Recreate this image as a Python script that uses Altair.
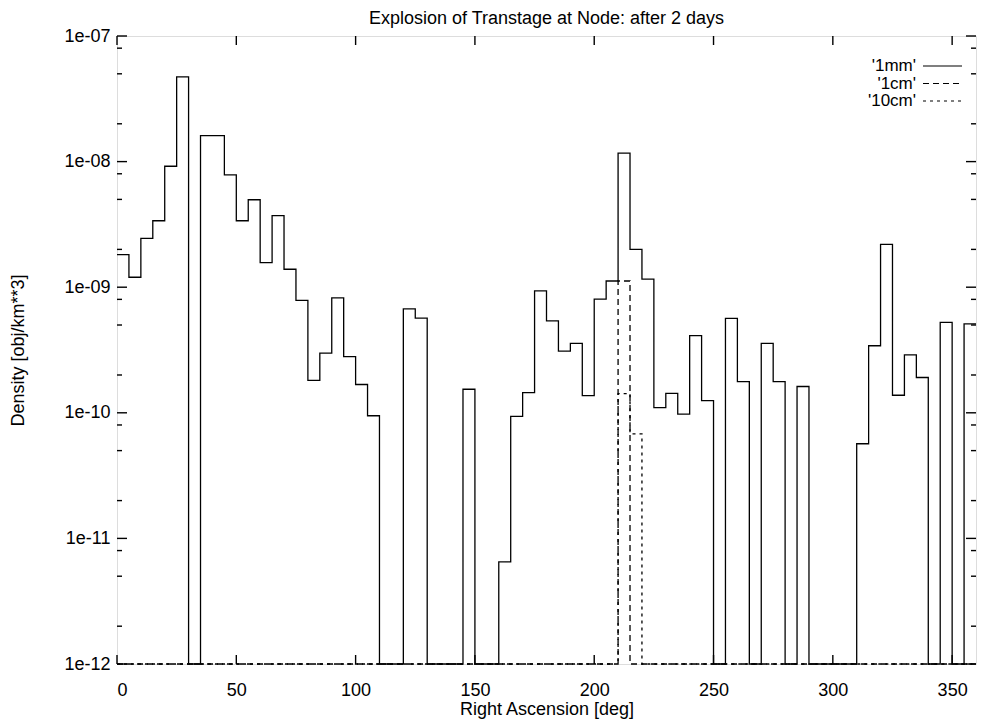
import altair as alt
import pandas as pd

# ---------------- data ----------------
bin_start = list(range(0, 360, 5))          # 5-degree bins, left edges
density_1mm = [
    1.82e-9, 1.20e-9, 2.45e-9, 3.38e-9, 9.18e-9, 4.73e-8,      # 0-30
    0, 1.61e-8, 1.61e-8, 7.84e-9, 3.38e-9, 4.97e-9,            # 30-60
    1.57e-9, 3.71e-9, 1.39e-9, 7.85e-10, 1.81e-10, 2.99e-10,   # 60-90
    8.23e-10, 2.80e-10, 1.68e-10, 9.47e-11, 0, 0,              # 90-120
    6.73e-10, 5.68e-10, 0, 0, 0, 1.54e-10,                     # 120-150
    0, 0, 6.5e-12, 9.35e-11, 1.45e-10, 9.35e-10,               # 150-180
    5.40e-10, 3.10e-10, 3.57e-10, 1.37e-10, 8.03e-10, 1.12e-9, # 180-210
    1.17e-8, 2.00e-9, 1.16e-9, 1.10e-10, 1.43e-10, 9.75e-11,   # 210-240
    4.11e-10, 1.25e-10, 0, 5.64e-10, 1.77e-10, 0,              # 240-270
    3.57e-10, 1.77e-10, 0, 1.62e-10, 0, 0,                     # 270-300
    0, 0, 5.67e-11, 3.42e-10, 2.19e-9, 1.38e-10,               # 300-330
    2.89e-10, 1.91e-10, 0, 5.25e-10, 0, 5.10e-10,              # 330-360
]
bins_1cm = [210]
values_1cm = [1.12e-9]
bins_10cm = [210, 215]
values_10cm = [1.42e-10, 6.8e-11]

series_names = ["'1mm'", "'1cm'", "'10cm'"]
series_dash = [[1, 0], [6, 4], [3, 4]]

x_ticks = [0, 50, 100, 150, 200, 250, 300, 350]
y_ticks = [1e-12, 1e-11, 1e-10, 1e-9, 1e-8, 1e-7]
y_minor = [m * 10.0 ** k for k in range(-12, -7) for m in (2, 5, 8)]

TITLE = "Explosion of Transtage at Node: after 2 days"
X_TITLE = "Right Ascension [deg]"
Y_TITLE = "Density [obj/km**3]"

# ---------------- build table ----------------
FLOOR = 1e-12  # zero bins are drawn on the bottom of the log axis


def full(bins, vals):
    d = dict(zip(bins, vals))
    return [d.get(b, 0.0) for b in bin_start]


all_series = [density_1mm, full(bins_1cm, values_1cm), full(bins_10cm, values_10cm)]
rows = []
for name, vals in zip(series_names, all_series):
    for b, v in zip(bin_start, vals):
        rows.append({"ra": b, "density": max(v, FLOOR), "series": name})
    rows.append({"ra": 360, "density": max(vals[-1], FLOOR), "series": name})
df = pd.DataFrame(rows)

W, H = 859, 628
FONT = "Liberation Sans"
FS = 18

xscale = alt.Scale(domain=[0, 360], nice=False, zero=False)
yscale = alt.Scale(type="log", domain=[1e-12, 1e-7], nice=False)

label_expr = ("'1e-' + (-round(log(datum.value)/LN10) < 10 ? '0' : '') + "
              "(-round(log(datum.value)/LN10))")

x_axis = alt.Axis(values=x_ticks, title=X_TITLE, ticks=False, domain=False, grid=False,
                  labelPadding=17, titlePadding=1, labelFontSize=FS, titleFontSize=FS,
                  titleFontWeight="normal", labelColor="black", titleColor="black",
                  labelFont=FONT, titleFont=FONT)
y_axis = alt.Axis(values=y_ticks, labelExpr=label_expr, title=Y_TITLE, ticks=False,
                  domain=False, grid=False, labelPadding=7, titlePadding=36,
                  labelFontSize=FS, titleFontSize=FS, titleFontWeight="normal",
                  labelColor="black", titleColor="black", labelFont=FONT, titleFont=FONT)

lines = alt.Chart(df).mark_line(interpolate="step-after", color="black", strokeWidth=1.3).encode(
    x=alt.X("ra:Q", scale=xscale, axis=x_axis),
    y=alt.Y("density:Q", scale=yscale, axis=y_axis),
    strokeDash=alt.StrokeDash("series:N",
                              scale=alt.Scale(domain=series_names, range=series_dash),
                              legend=None),
    order=alt.Order("ra:Q"),
)

ymaj = pd.DataFrame({"v": y_ticks})
ymin = pd.DataFrame({"v": y_minor})
xmaj = pd.DataFrame({"v": x_ticks})


def ytick(data, x0, x1):
    return alt.Chart(data).mark_rule(color="black", strokeWidth=1.4).encode(
        y=alt.Y("v:Q", scale=yscale, axis=y_axis), x=alt.value(x0), x2=alt.value(x1))


def xtick(data, y0, y1):
    return alt.Chart(data).mark_rule(color="black", strokeWidth=1.4).encode(
        x=alt.X("v:Q", scale=xscale, axis=x_axis), y=alt.value(y0), y2=alt.value(y1))


ticks = [
    ytick(ymaj, 0, 10), ytick(ymaj, W - 10, W),
    ytick(ymin, 0, 5), ytick(ymin, W - 5, W),
    xtick(xmaj, H, H - 9), xtick(xmaj, 0, 9),
]

# key (gnuplot style: label right-aligned, sample to its right)
KEY_FS = 17
key_rows_y = [30, 47.5, 65]
key = []
for name, dash, yy in zip(series_names, series_dash, key_rows_y):
    one = pd.DataFrame({"series": [name]})
    key.append(alt.Chart(one).mark_text(align="right", baseline="middle",
                                        fontSize=KEY_FS, font=FONT, color="black").encode(
        text="series:N", x=alt.value(799), y=alt.value(yy)))
    key.append(alt.Chart(one).mark_rule(color="black", strokeWidth=1.2, strokeDash=dash).encode(
        x=alt.value(806), x2=alt.value(845), y=alt.value(yy)))

chart = alt.layer(lines, *ticks, *key).properties(
    width=W, height=H,
    title=alt.TitleParams(TITLE, fontSize=FS, fontWeight="normal", font=FONT, color="black",
                          anchor="middle", frame="group", offset=-1),
    autosize=alt.AutoSizeParams(type="none"),
    padding={"left": 117, "top": 36, "right": 5, "bottom": 58},
).configure_view(stroke="black", strokeWidth=1.3).configure(background="white")

chart.save("out.html", embed_options={"renderer": "svg", "actions": False})
